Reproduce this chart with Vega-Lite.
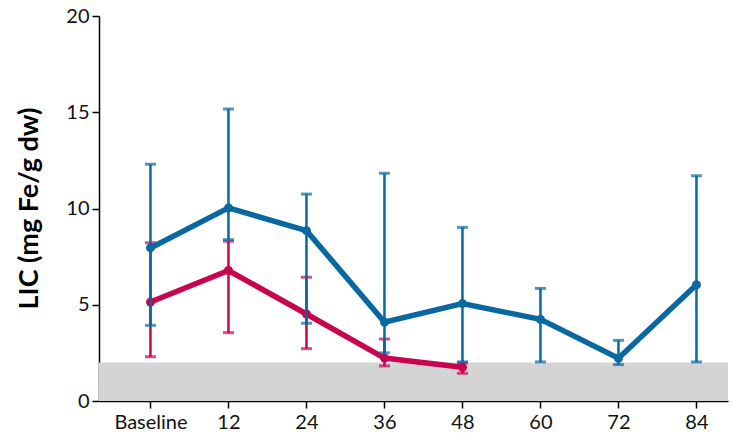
{
  "$schema": "https://vega.github.io/schema/vega-lite/v6.json",
  "width": 629,
  "height": 385,
  "autosize": "none",
  "padding": {"left": 99, "top": 16, "right": 5, "bottom": 38},
  "background": "white",
  "config": {
    "view": {"stroke": null},
    "font": "Lato",
    "axis": {"grid": false, "domainColor": "#000000", "tickColor": "#000000", "domainWidth": 1.5, "tickWidth": 1.5, "labelColor": "#111111", "labelFont": "Lato", "titleFont": "Lato"}
  },
  "data": {"values": [
    {"time": "Baseline", "group": "B", "mean": 7.95, "lo": 3.93, "hi": 12.3},
    {"time": "12", "group": "B", "mean": 10.03, "lo": 8.38, "hi": 15.17},
    {"time": "24", "group": "B", "mean": 8.85, "lo": 4.04, "hi": 10.75},
    {"time": "36", "group": "B", "mean": 4.1, "lo": 2.5, "hi": 11.83},
    {"time": "48", "group": "B", "mean": 5.06, "lo": 2.03, "hi": 9.02},
    {"time": "60", "group": "B", "mean": 4.24, "lo": 2.03, "hi": 5.85},
    {"time": "72", "group": "B", "mean": 2.22, "lo": 1.89, "hi": 3.15},
    {"time": "84", "group": "B", "mean": 6.04, "lo": 2.03, "hi": 11.7},
    {"time": "Baseline", "group": "A", "mean": 5.14, "lo": 2.3, "hi": 8.22},
    {"time": "12", "group": "A", "mean": 6.78, "lo": 3.55, "hi": 8.3},
    {"time": "24", "group": "A", "mean": 4.52, "lo": 2.72, "hi": 6.43},
    {"time": "36", "group": "A", "mean": 2.23, "lo": 1.82, "hi": 3.22},
    {"time": "48", "group": "A", "mean": 1.75, "lo": 1.44, "hi": 1.98}
  ]},
  "layer": [
    {
      "data": {"values": [{"lo": 0, "hi": 2}]},
      "mark": {"type": "rect", "color": "#d4d4d4"},
      "encoding": {
        "x": {"value": 0},
        "x2": {"value": "width"},
        "y": {"field": "lo", "type": "quantitative", "scale": {"domain": [0, 20]}},
        "y2": {"field": "hi"}
      }
    },
    {
      "transform": [{"filter": "datum.group == 'A'"}],
      "layer": [
        {"mark": {"type": "rule", "color": "#c8044f", "strokeWidth": 2.5}, "encoding": {"y": {"field": "lo", "type": "quantitative"}, "y2": {"field": "hi"}}},
        {"mark": {"type": "tick", "color": "#c8044f", "size": 11, "thickness": 3}, "encoding": {"y": {"field": "lo", "type": "quantitative"}}},
        {"mark": {"type": "tick", "color": "#c8044f", "size": 11, "thickness": 3}, "encoding": {"y": {"field": "hi", "type": "quantitative"}}},
        {"mark": {"type": "line", "color": "#c8044f", "strokeWidth": 5.5, "point": {"filled": true, "size": 80, "color": "#c8044f"}}, "encoding": {"y": {"field": "mean", "type": "quantitative"}}}
      ]
    },
    {
      "transform": [{"filter": "datum.group == 'B'"}],
      "layer": [
        {"mark": {"type": "rule", "color": "#0868a2", "strokeWidth": 2.5}, "encoding": {"y": {"field": "lo", "type": "quantitative"}, "y2": {"field": "hi"}}},
        {"mark": {"type": "tick", "color": "#0868a2", "size": 11, "thickness": 3}, "encoding": {"y": {"field": "lo", "type": "quantitative"}}},
        {"mark": {"type": "tick", "color": "#0868a2", "size": 11, "thickness": 3}, "encoding": {"y": {"field": "hi", "type": "quantitative"}}},
        {"mark": {"type": "line", "color": "#0868a2", "strokeWidth": 5.5, "point": {"filled": true, "size": 80, "color": "#0868a2"}}, "encoding": {"y": {"field": "mean", "type": "quantitative"}}}
      ]
    }
  ],
  "encoding": {
    "x": {
      "field": "time", "type": "ordinal",
      "sort": ["Baseline", "12", "24", "36", "48", "60", "72", "84"],
      "scale": {"type": "point", "domain": ["Baseline", "12", "24", "36", "48", "60", "72", "84"], "padding": 0.532, "align": 0.62},
      "axis": {"title": null, "labelAngle": 0, "labelFontSize": 20, "tickSize": 7, "labelPadding": 4, "domainWidth": 1.5}
    },
    "y": {
      "type": "quantitative",
      "scale": {"domain": [0, 20], "nice": false, "zero": true},
      "axis": {"title": "LIC (mg Fe/g dw)", "values": [0, 5, 10, 15, 20], "labelFontSize": 20, "tickSize": 7, "labelPadding": 3, "titleFontSize": 27, "titleFontWeight": "bold", "titleColor": "#000000", "titleX": -70, "titleY": 192, "titleAngle": -90, "titleBaseline": "middle", "titleAlign": "center"}
    }
  }
}
